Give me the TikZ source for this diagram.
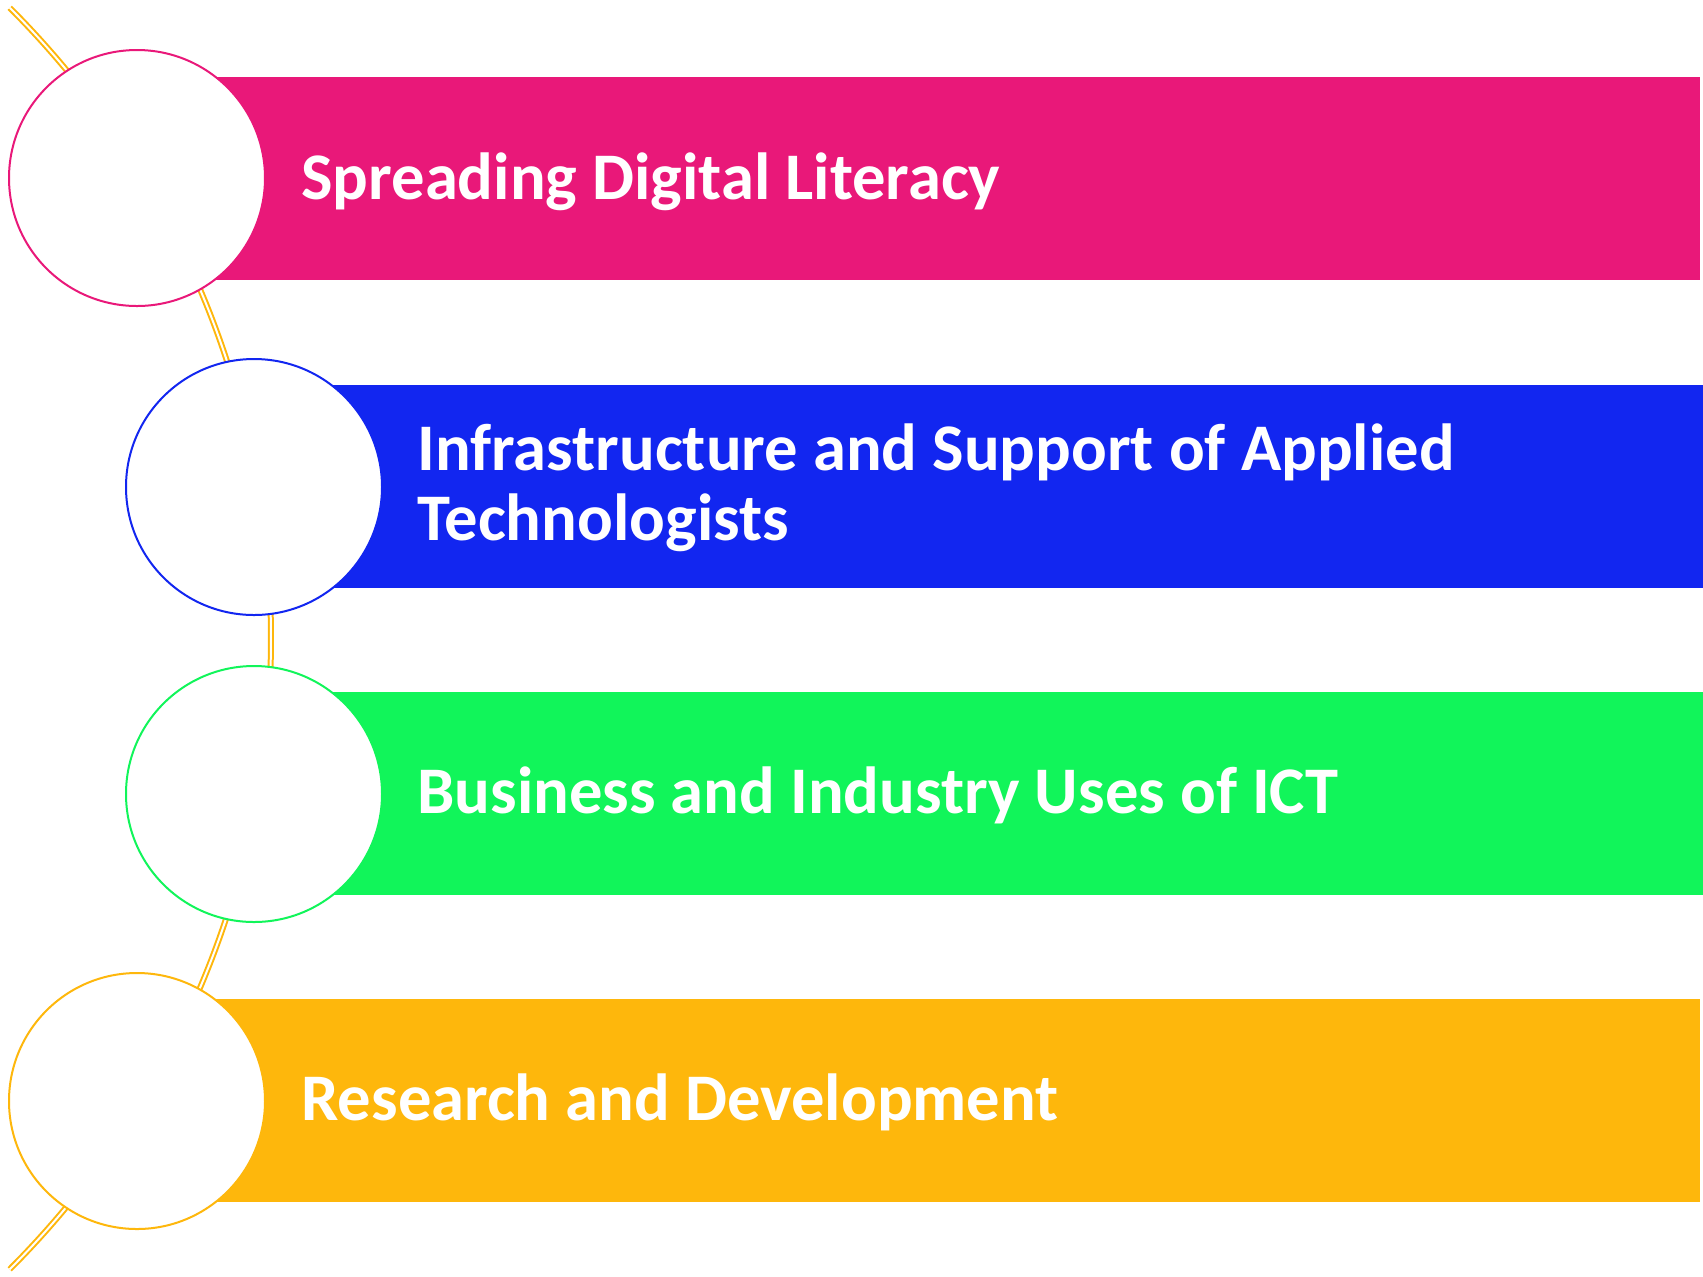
\documentclass[tikz,border=0pt]{standalone}
\usepackage{fontspec}
\setmainfont{Carlito}
\definecolor{cpink}{RGB}{233,24,121}
\definecolor{cblue}{RGB}{18,38,240}
\definecolor{cgreen}{RGB}{17,245,90}
\definecolor{cyell}{RGB}{254,183,12}
\begin{document}
\begin{tikzpicture}[x=0.5pt,y=-0.5pt,
  bar/.style={rectangle,anchor=west,inner sep=0,minimum width=781.5pt,minimum height=101.5pt},
  ring/.style={circle,fill=white,line width=1pt,inner sep=0,minimum size=128pt},
  label/.style={text=white,inner sep=0,anchor=base west,align=left,font=\bfseries\fontsize{33.3}{34.8}\selectfont}]
\useasboundingbox (0,0) rectangle (1703,1276);
\node[bar,fill=cpink]  (b1) at (137,178.5) {};
\node[bar,fill=cblue]  (b2) at (254,486) {};
\node[bar,fill=cgreen] (b3) at (254,793) {};
\node[bar,fill=cyell]  (b4) at (137,1100.5) {};
\coordinate (arcc) at (-621,638.5);
\draw[cyell,double=white,line width=1pt,double distance=1pt] (arcc) ++(45:892) arc[start angle=45,end angle=-45,radius=892];
\node[ring,draw=cpink]  (c1) at (137,178) {};
\node[ring,draw=cblue]  (c2) at (254,487) {};
\node[ring,draw=cgreen] (c3) at (254,794) {};
\node[ring,draw=cyell]  (c4) at (137,1101) {};
\node[label] (t1) at (301,199) {Spreading Digital Literacy};
\node[label] (t2) at (417,540) {Infrastructure and Support of Applied\\Technologists};
\node[label] (t3) at (417,813) {Business and Industry Uses of ICT};
\node[label] (t4) at (301,1120) {Research and Development};
\end{tikzpicture}
\end{document}
